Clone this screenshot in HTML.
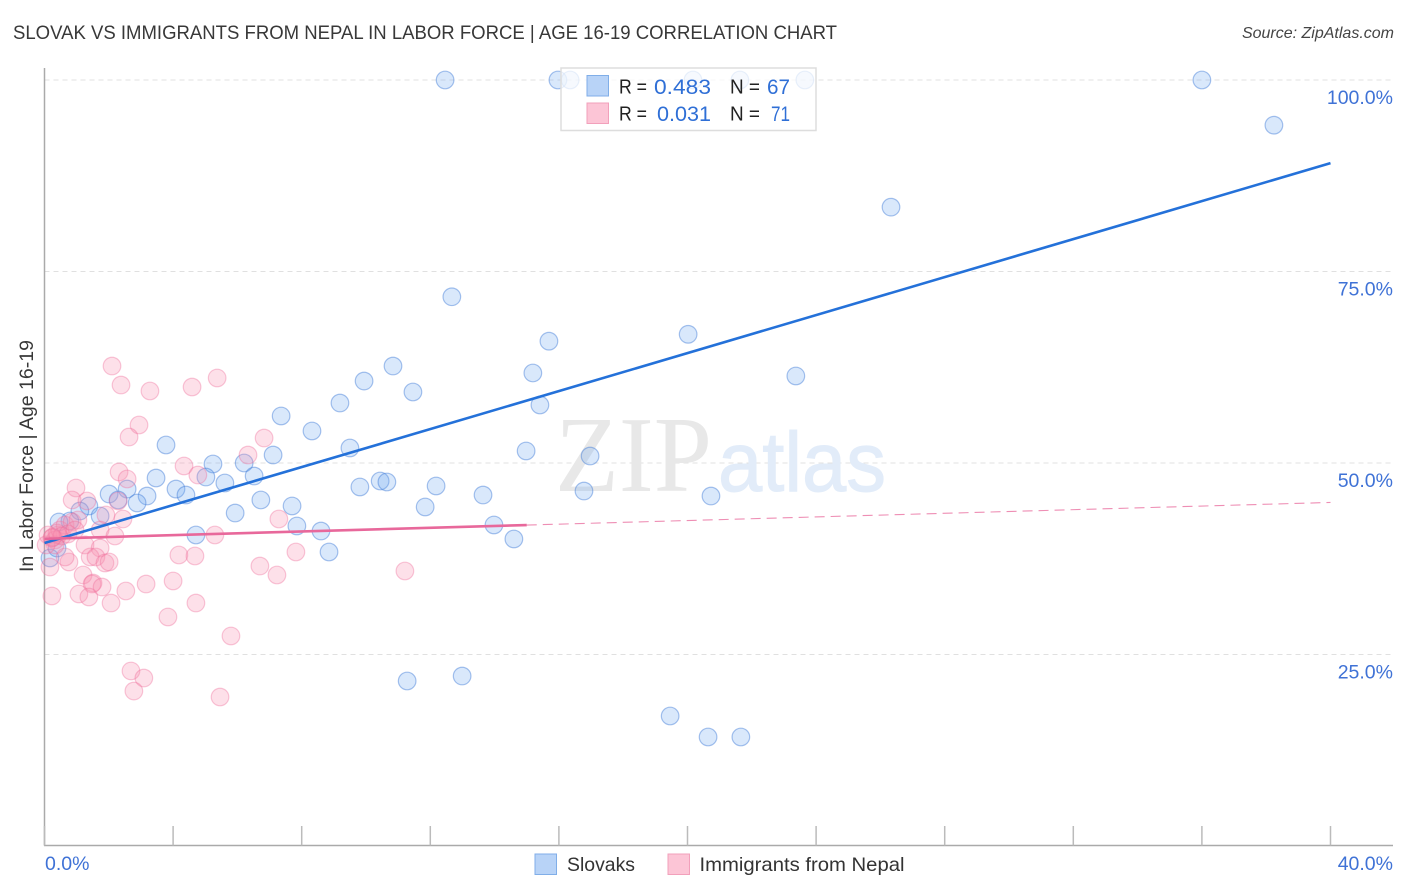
<!DOCTYPE html>
<html>
<head>
<meta charset="utf-8">
<title>Slovak vs Immigrants from Nepal in Labor Force | Age 16-19 Correlation Chart</title>
<style>
html,body{margin:0;padding:0;background:#fff;}
svg{display:block;font-family:"Liberation Sans",sans-serif;}
</style>
</head>
<body>
<svg id="chart" xmlns="http://www.w3.org/2000/svg" width="1406" height="892" viewBox="0 0 1406 892">
  <text x="13" y="39" font-size="19.5" fill="#383838" textLength="824" lengthAdjust="spacingAndGlyphs">SLOVAK VS IMMIGRANTS FROM NEPAL IN LABOR FORCE | AGE 16-19 CORRELATION CHART</text>
  <text x="1394" y="38" font-size="16" font-style="italic" fill="#444" text-anchor="end">Source: ZipAtlas.com</text>
  <text transform="translate(33,572) rotate(-90)" font-size="19" fill="#383838" textLength="232" lengthAdjust="spacingAndGlyphs">In Labor Force | Age 16-19</text>
  <g id="grid"></g>
  <g>
    <text x="555" y="491" font-family="'Liberation Serif',serif" font-size="108" fill="#e8e8e8" textLength="157" lengthAdjust="spacingAndGlyphs">ZIP</text>
    <text x="718" y="491" font-size="84" fill="#e2ecf9" stroke="#e2ecf9" stroke-width="1" textLength="168" lengthAdjust="spacingAndGlyphs">atlas</text>
  </g>
  <g id="axes"></g>
  <g id="points-blue"></g>
  <g id="points-pink"></g>
  <g id="trends"></g>
  <g>
    <rect x="561" y="68" width="255" height="62.5" fill="#fff" fill-opacity="0.75" stroke="#ddd" stroke-width="1.5"/>
    <rect x="587" y="75.5" width="21.5" height="20.5" fill="#b8d3f7" stroke="#80aee8" stroke-width="1"/>
    <rect x="587" y="103" width="21.5" height="20.5" fill="#fcc5d6" stroke="#f2a0bb" stroke-width="1"/>
    <g font-size="20" fill="#222">
      <text x="619" y="93.5" textLength="28" lengthAdjust="spacingAndGlyphs">R =</text>
      <text x="730" y="93.5" textLength="30" lengthAdjust="spacingAndGlyphs">N =</text>
      <text x="619" y="120.5" textLength="28" lengthAdjust="spacingAndGlyphs">R =</text>
      <text x="730" y="120.5" textLength="30" lengthAdjust="spacingAndGlyphs">N =</text>
    </g>
    <g font-size="21.5" fill="#2f6fd6">
      <text x="654" y="94" textLength="57" lengthAdjust="spacingAndGlyphs">0.483</text>
      <text x="767" y="94" textLength="23" lengthAdjust="spacingAndGlyphs">67</text>
      <text x="657" y="121" textLength="54" lengthAdjust="spacingAndGlyphs">0.031</text>
      <text x="771" y="121" textLength="19" lengthAdjust="spacingAndGlyphs">71</text>
    </g>
  </g>
  <g>
    <rect x="535" y="854" width="21.5" height="20.5" fill="#b8d3f7" stroke="#80aee8" stroke-width="1"/>
    <text x="567" y="871" font-size="19.5" fill="#333" textLength="68" lengthAdjust="spacingAndGlyphs">Slovaks</text>
    <rect x="668" y="854" width="21.5" height="20.5" fill="#fcc5d6" stroke="#f2a0bb" stroke-width="1"/>
    <text x="699.5" y="871" font-size="19.5" fill="#333" textLength="205" lengthAdjust="spacingAndGlyphs">Immigrants from Nepal</text>
  </g>
</svg>
<script>
var yTicks = [100, 75, 50, 25];
var yTickLabels = ["100.0%", "75.0%", "50.0%", "25.0%"];
var xTicks = [0, 4, 8, 12, 16, 20, 24, 28, 32, 36, 40];
var xEndLabels = ["0.0%", "40.0%"];

var slovaksX = [12.46,15.97,16.35,20.17,21.63,23.65,36.00,38.24,26.33,12.67,15.69,20.02,15.19,10.84,9.94,11.46,9.19,15.41,23.37,7.36,8.32,3.78,9.50,14.98,16.97,7.11,6.21,5.24,3.47,6.52,5.02,5.61,4.09,9.81,10.44,10.65,12.18,4.40,3.19,2.01,2.57,2.29,2.88,6.73,7.70,5.93,11.84,13.64,16.78,20.73,1.38,1.10,1.73,0.79,0.45,7.85,8.60,4.71,13.98,14.60,8.85,11.28,12.99,19.46,20.64,21.66,0.17,0.39];
var slovaksY = [100,100,100,100,100,100,100,94.1,83.4,71.7,65.9,66.8,61.75,62.66,60.7,59.27,57.83,57.57,61.36,56.14,54.18,52.35,51.96,51.57,50.91,51.04,50,49.87,48.04,48.3,48.17,47.39,46.6,46.87,47.65,47.52,47.0,45.82,45.69,45.95,46.6,45.17,44.78,45.17,44.39,43.47,44.26,45.82,46.34,45.69,44.39,43.73,43.08,42.43,42.3,41.78,41.12,40.6,41.91,40.08,38.38,21.54,22.19,16.97,14.23,14.23,37.6,38.9];

var nepalX = [2.10,2.38,3.28,4.59,5.37,2.94,2.63,6.83,6.33,2.32,4.34,2.57,4.77,0.98,0.86,1.32,2.29,1.91,2.44,1.73,2.19,1.26,1.73,1.42,1.60,1.88,2.01,0.76,0.64,0.17,0.23,1.20,1.51,1.48,1.79,1.07,1.38,2.07,2.53,3.16,4.00,4.18,4.68,5.30,6.70,7.23,7.29,7.82,4.71,3.84,5.80,11.21,2.69,3.09,2.78,5.46,0.11,0.23,0.33,0.42,0.48,0.64,0.86,1.04,0.33,0.05,0.39,0.54,0.73,0.95,0.25];
var nepalY = [62.66,60.18,59.4,59.92,61.1,54.96,53.39,53.26,51.04,48.83,49.61,47.91,48.43,46.74,45.17,45.04,45.04,43.21,42.69,41.25,40.47,39.3,38.9,37.73,37.73,36.95,37.08,37.08,37.73,36.42,32.64,35.38,34.33,34.2,33.81,32.9,32.51,31.72,33.29,34.2,34.6,37.99,37.86,40.6,36.55,35.38,42.69,38.38,31.72,29.9,27.42,35.9,22.85,21.93,20.23,19.45,40.6,40.2,39.95,40.6,41.25,41.9,42.3,42.56,39.3,39.3,40.86,40.47,40.73,41.25,40.3];

var slovaksTrendX = [0, 40];
var slovaksTrendY = [39.55, 89.15];
var nepalTrendSolidX = [0, 15];
var nepalTrendSolidY = [40.1, 41.9];
var nepalTrendDashX = [15, 40];
var nepalTrendDashY = [41.9, 44.85];

var NS = "http://www.w3.org/2000/svg";
function xScale(v){ return 44.5 + v * 32.15; }
function yScale(v){ return 846 - v * 7.66; }
function make(tag, attrs, parent){
  var el = document.createElementNS(NS, tag);
  for (var k in attrs) el.setAttribute(k, attrs[k]);
  parent.appendChild(el);
  return el;
}

var grid = document.getElementById("grid");
var axes = document.getElementById("axes");
yTicks.forEach(function(t, i){
  var line = make("line", {x1:44.5, x2:1393, y1:yScale(t), y2:yScale(t), stroke:"#e0e0e0", "stroke-width":1, "stroke-dasharray":"5 4"}, grid);
  
  
  var label = make("text", {x:1393, y:yScale(t)+24, "text-anchor":"end", "font-size":19.5, fill:"#3f72d6"}, axes);
  label.textContent = yTickLabels[i];
  
  
});

var yAxis = make("line", {x1:44.5, x2:44.5, y1:68, y2:845.5, stroke:"#aaa", "stroke-width":1.5}, axes);


var xAxis = make("line", {x1:44, x2:1393, y1:845.5, y2:845.5, stroke:"#aaa", "stroke-width":1.5}, axes);


xTicks.forEach(function(t){
  var tick = make("line", {x1:xScale(t), x2:xScale(t), y1:826, y2:845.5, stroke:"#bbb", "stroke-width":1.5}, axes);
  
  
});
var x0 = make("text", {x:45, y:870, "font-size":19.5, fill:"#3f72d6"}, axes);
x0.textContent = xEndLabels[0];


var x1 = make("text", {x:1393, y:870, "text-anchor":"end", "font-size":19.5, fill:"#3f72d6"}, axes);
x1.textContent = xEndLabels[1];



var blue = document.getElementById("points-blue");
slovaksX.forEach(function(v, i){
  var c = make("circle", {cx:xScale(v), cy:yScale(slovaksY[i]), r:8.8, fill:"#6ea6ee", "fill-opacity":0.26, stroke:"#3d7ad6", "stroke-opacity":0.45, "stroke-width":1.2}, blue);
  
  
});
var pink = document.getElementById("points-pink");
nepalX.forEach(function(v, i){
  var c = make("circle", {cx:xScale(v), cy:yScale(nepalY[i]), r:8.8, fill:"#f78fb0", "fill-opacity":0.28, stroke:"#ee6f9b", "stroke-opacity":0.38, "stroke-width":1.2}, pink);
  
  
});

var trends = document.getElementById("trends");
var l1 = make("line", {x1:xScale(slovaksTrendX[0]), y1:yScale(slovaksTrendY[0]), x2:xScale(slovaksTrendX[1]), y2:yScale(slovaksTrendY[1]), stroke:"#2471d9", "stroke-width":2.6}, trends);


var l2 = make("line", {x1:xScale(nepalTrendSolidX[0]), y1:yScale(nepalTrendSolidY[0]), x2:xScale(nepalTrendSolidX[1]), y2:yScale(nepalTrendSolidY[1]), stroke:"#e8689b", "stroke-width":2.6}, trends);


var l3 = make("line", {x1:xScale(nepalTrendDashX[0]), y1:yScale(nepalTrendDashY[0]), x2:xScale(nepalTrendDashX[1]), y2:yScale(nepalTrendDashY[1]), stroke:"#e8689b", "stroke-opacity":0.75, "stroke-width":1.1, "stroke-dasharray":"10 6"}, trends);


</script>
</body>
</html>
